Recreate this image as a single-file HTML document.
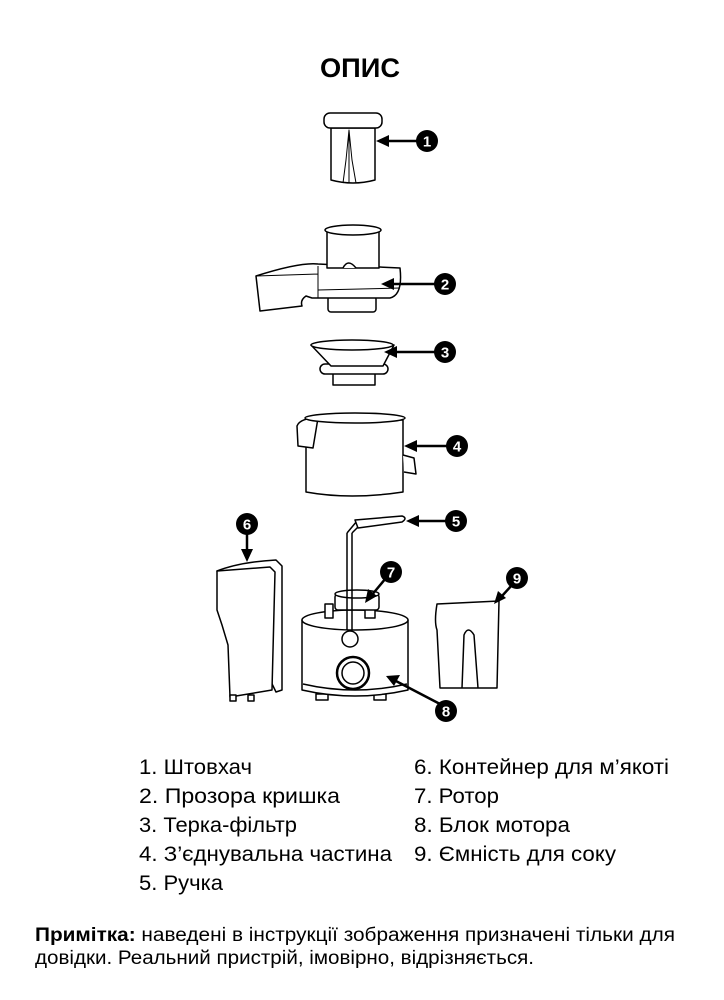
<!DOCTYPE html>
<html><head><meta charset="utf-8"><style>
html,body{margin:0;padding:0;background:#fff;}
svg{display:block;}
text{font-family:"Liberation Sans",sans-serif;fill:#000;}
</style></head><body>
<svg width="724" height="1000" viewBox="0 0 724 1000" xmlns="http://www.w3.org/2000/svg">
<text x="320" y="77" font-size="27" font-weight="bold" textLength="80" lengthAdjust="spacingAndGlyphs">ОПИС</text>
<g fill="#fff" stroke="#000" stroke-width="1.5" stroke-linejoin="round">
<path d="M331 128 L331 180 Q353 186 375 180 L375 128 Z"/>
<path d="M349 130 L349 183 M343 183 L346 160 L349 130 L352 160 L356 183" fill="none" stroke-width="1"/>
<rect x="324" y="113" width="58" height="15" rx="6"/>
<rect x="328" y="296" width="48" height="16" rx="3"/>
<path d="M256 276 Q300 262 318 264 L400 268 Q403 295 390 298 L320 298 L312 298 L306 296 Q300 300 302 306 L260 311 Z"/>
<path d="M256 276 L318 274 M318 266 L318 298 M318 290 L400 288" fill="none" stroke-width="1"/>
<rect x="327" y="230" width="52" height="38"/>
<ellipse cx="353" cy="230" rx="28" ry="5"/>
<path d="M343 268 Q348 258 356 268" />
<rect x="333" y="370" width="42" height="15"/>
<rect x="320" y="364" width="68" height="10" rx="5"/>
<path d="M311 345 L331 366 L383 366 L394 345 Z"/>
<ellipse cx="352" cy="345" rx="41" ry="5"/>
<path d="M306 420 L306 492 Q350 500 403 492 L403 420 Z"/>
<path d="M403 455 L414 458 L416 474 L404 472" />
<path d="M297 426 Q300 418 318 418 L313 448 L298 446 Z"/>
<ellipse cx="355" cy="418" rx="50" ry="5"/>
<path d="M217 571 Q240 562 276 560 L282 566 L282 690 L276 692 Z"/>
<path d="M217 571 L270 567 L275 572 L272 690 L230 697 L228 645 L222 625 L217 610 Z"/>
<rect x="230" y="695" width="6" height="6"/><rect x="248" y="695" width="6" height="6"/>
<path d="M437 604 L499 601 L497 688 L440 688 L437 630 Q434 622 437 604 Z"/>
<path d="M462 688 L464 635 Q468 625 474 635 L478 688" fill="none"/>
<rect x="316" y="694" width="12" height="6"/><rect x="374" y="694" width="12" height="6"/>
<path d="M302 620 L302 690 Q355 702 408 690 L408 620 Z"/>
<path d="M303 684 Q355 696 407 684" fill="none"/>
<ellipse cx="355" cy="620" rx="53" ry="10"/>
<circle cx="353" cy="673" r="16" stroke-width="2.5"/>
<circle cx="353" cy="673" r="11"/>
<rect x="325" y="604" width="8" height="14"/><rect x="365" y="606" width="10" height="12"/>
<rect x="335" y="594" width="44" height="16" rx="3"/>
<ellipse cx="357" cy="594" rx="22" ry="4"/>
<path d="M347 533 L347 630 M352 533 L352 630" fill="none"/>
<path d="M347 533 L357 521 M352 533 L362 523" fill="none"/>
<path d="M355 520 L402 516 Q408 518 402 522 L358 528 Z"/>
<circle cx="350" cy="639" r="8"/>
</g>
<g stroke="#000" stroke-width="2.5" fill="none">
<line x1="386" y1="141" x2="420" y2="141"/>
<line x1="392" y1="284" x2="438" y2="284"/>
<line x1="395" y1="352" x2="438" y2="352"/>
<line x1="413" y1="446" x2="450" y2="446"/>
<line x1="416" y1="521" x2="449" y2="521"/>
<line x1="247" y1="532" x2="247" y2="553"/>
<line x1="371" y1="596" x2="386" y2="578"/>
<line x1="502" y1="596" x2="512" y2="585"/>
<line x1="394" y1="680" x2="440" y2="704"/>
</g>
<g fill="#000">
<path d="M376 141 L389 135 L389 147 Z"/>
<path d="M381 284 L394 278 L394 290 Z"/>
<path d="M384 352 L397 346 L397 358 Z"/>
<path d="M404 446 L417 440 L417 452 Z"/>
<path d="M406 521 L419 515 L419 527 Z"/>
<path d="M247 562 L241 549 L253 549 Z"/>
<path d="M365 603 L368 589 L377 596 Z"/>
<path d="M494 604 L498 591 L506 598 Z"/>
<path d="M386 676 L400 675 L394 686 Z"/>
<circle cx="427" cy="141" r="11"/><circle cx="445" cy="284" r="11"/>
<circle cx="445" cy="352" r="11"/><circle cx="457" cy="446" r="11"/>
<circle cx="456" cy="521" r="11"/><circle cx="247" cy="524" r="11"/>
<circle cx="391" cy="572" r="11"/><circle cx="517" cy="578" r="11"/>
<circle cx="446" cy="711" r="11"/>
</g>
<g font-size="15" font-weight="bold" text-anchor="middle">
<text x="427" y="146.5" style="fill:#fff">1</text><text x="445" y="289.5" style="fill:#fff">2</text>
<text x="445" y="357.5" style="fill:#fff">3</text><text x="457" y="451.5" style="fill:#fff">4</text>
<text x="456" y="526.5" style="fill:#fff">5</text><text x="247" y="529.5" style="fill:#fff">6</text>
<text x="391" y="577.5" style="fill:#fff">7</text><text x="517" y="583.5" style="fill:#fff">9</text>
<text x="446" y="716.5" style="fill:#fff">8</text>
</g>
<g font-size="21">
<text x="139" y="774" textLength="113" lengthAdjust="spacingAndGlyphs">1. Штовхач</text>
<text x="139" y="803" textLength="201" lengthAdjust="spacingAndGlyphs">2. Прозора кришка</text>
<text x="139" y="832" textLength="158" lengthAdjust="spacingAndGlyphs">3. Терка-фільтр</text>
<text x="139" y="861" textLength="253" lengthAdjust="spacingAndGlyphs">4. З’єднувальна частина</text>
<text x="139" y="890" textLength="84" lengthAdjust="spacingAndGlyphs">5. Ручка</text>
<text x="414" y="774" textLength="255" lengthAdjust="spacingAndGlyphs">6. Контейнер для м’якоті</text>
<text x="414" y="803" textLength="85" lengthAdjust="spacingAndGlyphs">7. Ротор</text>
<text x="414" y="832" textLength="156" lengthAdjust="spacingAndGlyphs">8. Блок мотора</text>
<text x="414" y="861" textLength="202" lengthAdjust="spacingAndGlyphs">9. Ємність для соку</text>
</g>
<g font-size="19">
<text x="35" y="941" textLength="640" lengthAdjust="spacingAndGlyphs"><tspan font-weight="bold">Примітка:</tspan> наведені в інструкції зображення призначені тільки для</text>
<text x="35" y="964" textLength="499" lengthAdjust="spacingAndGlyphs">довідки. Реальний пристрій, імовірно, відрізняється.</text>
</g>
</svg>
</body></html>
